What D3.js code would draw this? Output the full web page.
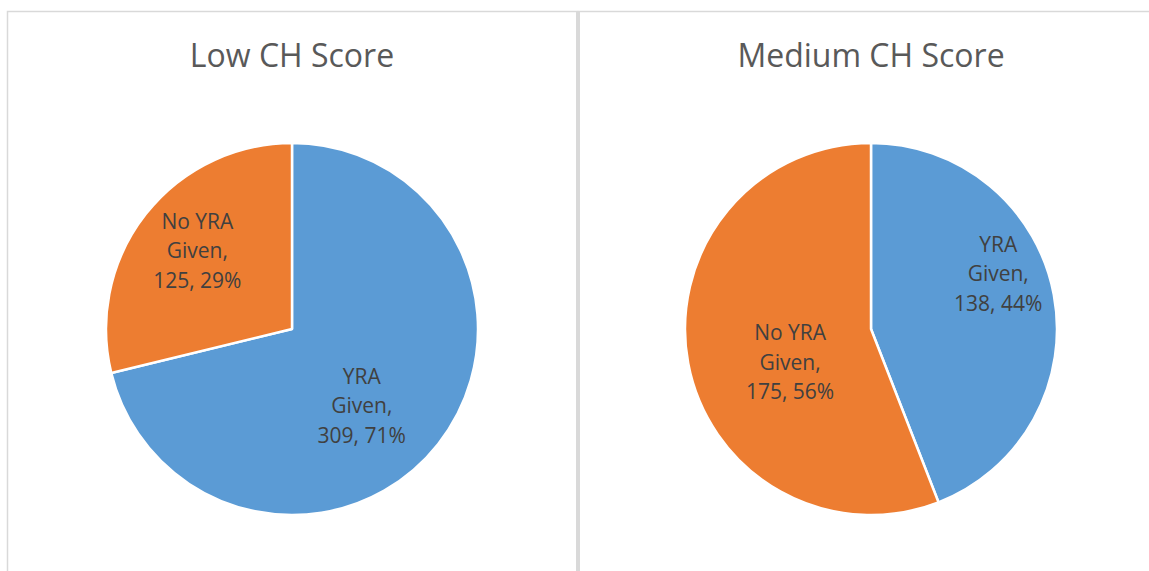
<!DOCTYPE html>
<html>
<head>
<meta charset="utf-8">
<script src="https://cdn.jsdelivr.net/npm/d3@7"></script>
<style>
  body { margin: 0; background: #fff; }
  svg { display: block; font-family: "Open Sans", "DejaVu Sans", sans-serif; }
</style>
</head>
<body>
<svg id="chart" width="1149" height="571"></svg>
<script>
// chart data
const titles = ["Low CH Score", "Medium CH Score"];
const categories = ["YRA Given", "No YRA Given"];
const lowValues = [309, 125];
const lowPercents = ["71%", "29%"];
const mediumValues = [138, 175];
const mediumPercents = ["44%", "56%"];
const colors = ["#5b9bd5", "#ed7d31"];

const svg = d3.select("#chart");
const W = 1149, H = 571;

// panel frames
const panels = [{x: 7, w: 570}, {x: 578, w: 600}];
svg.append("g").selectAll("rect")
  .data(panels)
  .enter().append("rect")
  .attr("x", d => d.x + 0.5)
  .attr("y", 11.5)
  .attr("width", d => d.w)
  .attr("height", H + 20)
  .attr("fill", "none")
  .attr("stroke", "#d9d9d9")
  .attr("stroke-width", 1.5);
svg.append("rect")
  .attr("x", 576).attr("y", 12)
  .attr("width", 4).attr("height", H)
  .attr("fill", "#d9d9d9");

// label placement: centroid at a fraction of the radius, then a small nudge (best-fit like)
const charts = [
  {title: titles[0], values: lowValues, pcts: lowPercents, cx: 292, labelR: [0.6, 0.62], nudge: [[-18, 8], [-4, -7]]},
  {title: titles[1], values: mediumValues, pcts: mediumPercents, cx: 871, labelR: [0.8, 0.47], nudge: [[-19, -28], [5, 17]]}
];
const cy = 329, r = 186;

const pie = d3.pie().sort(null).value(d => d);
const arc = d3.arc().innerRadius(0).outerRadius(r);

charts.forEach(c => {
  const g = svg.append("g").attr("transform", `translate(${c.cx},${cy})`);

  svg.append("text")
    .attr("x", c.cx)
    .attr("y", 67)
    .attr("text-anchor", "middle")
    .attr("font-size", 32)
    .attr("fill", "#595959")
    .text(c.title);

  const arcs = pie(c.values);
  g.selectAll("path")
    .data(arcs)
    .enter().append("path")
    .attr("d", arc)
    .attr("fill", (d, i) => colors[i])
    .attr("stroke", "#fff")
    .attr("stroke-width", 2.5)
    .attr("stroke-linejoin", "round");

  arcs.forEach((d, i) => {
    const la = d3.arc().innerRadius(0).outerRadius(2 * r * c.labelR[i]);
    let [lx, ly] = la.centroid(d);
    lx += c.nudge[i][0];
    ly += c.nudge[i][1];
    const words = categories[i].split(" ");
    const lines = words.length > 2
      ? [words.slice(0, -1).join(" "), words[words.length - 1] + ","]
      : [words[0], words[1] + ","];
    lines.push(`${c.values[i]}, ${c.pcts[i]}`);
    const t = g.append("text")
      .attr("text-anchor", "middle")
      .attr("font-size", 21)
      .attr("fill", "#404040");
    lines.forEach((s, k) => {
      t.append("tspan")
        .attr("x", lx)
        .attr("y", ly + (k - 1) * 29.5 + 7.5)
        .text(s);
    });
  });
});
</script>
</body>
</html>
